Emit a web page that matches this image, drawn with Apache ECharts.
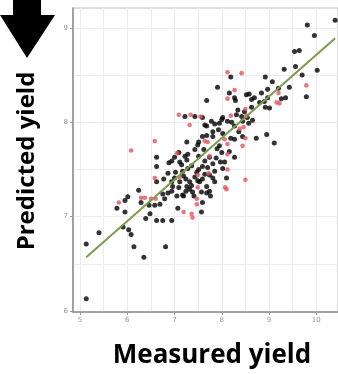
<!DOCTYPE html>
<html>
<head>
<meta charset="utf-8">
<script src="https://cdn.jsdelivr.net/npm/echarts@6/dist/echarts.min.js"></script>
<style>
  html, body { margin: 0; padding: 0; background: #fff; }
  #chart { width: 338px; height: 374px; }
</style>
</head>
<body>
<div id="chart"></div>
<script>
// tick labels
var xTicks = [5, 6, 7, 8, 9, 10]
var yTicks = [6, 7, 8, 9]
// grid lines (major + minor)
var xGrid = [5, 5.5, 6, 6.5, 7, 7.5, 8, 8.5, 9, 9.5, 10]
var yGrid = [6, 6.5, 7, 7.5, 8, 8.5, 9]

// black points: measured / predicted
var blackX = [9.81, 10.40, 9.96, 9.54, 9.64, 9.32, 9.56, 10.02, 9.70, 8.92, 9.07, 9.43, 9.20, 7.91, 8.19, 8.97, 8.84, 8.69, 8.97, 9.35,
  9.26, 9.79, 8.16, 8.27, 8.29, 8.52, 8.63, 7.68, 8.80, 8.90, 8.92, 9.01, 8.63, 8.48, 8.31, 8.42, 8.54, 8.65, 8.02, 8.00,
  7.78, 7.68, 7.22, 7.43, 7.59, 8.12, 7.95, 7.85, 7.64, 7.93, 8.02, 7.81, 8.27, 8.44, 7.68, 7.59, 7.81, 7.51, 7.26, 8.19,
  8.27, 8.44, 8.73, 8.95, 9.11, 7.95, 7.49, 7.43, 7.09, 7.28, 7.26, 7.00, 6.94, 6.88, 6.62, 6.62, 7.11, 7.22, 7.51, 7.64,
  7.74, 8.00, 8.16, 8.27, 7.97, 8.06, 7.81, 7.70, 7.59, 8.02, 7.28, 7.85, 7.51, 7.47, 7.19, 7.17, 7.24, 7.32, 7.43, 7.49,
  7.64, 7.74, 7.81, 7.59, 7.53, 6.62, 6.77, 7.00, 6.94, 6.96, 7.09, 7.26, 7.36, 7.11, 7.85, 8.10, 7.68, 7.74, 7.57, 7.38,
  7.32, 6.94, 6.86, 7.05, 7.19, 7.24, 7.41, 6.75, 6.24, 6.01, 5.95, 5.78, 5.95, 6.46, 6.58, 6.69, 6.79, 6.29, 7.59, 7.76,
  7.07, 7.57, 6.39, 6.48, 6.62, 6.75, 6.94, 5.13, 5.40, 5.91, 6.03, 6.08, 6.14, 6.35, 6.81, 5.13, 7.68, 7.17, 8.21, 8.57,
  7.36, 7.90, 8.36, 7.02, 6.86, 7.62, 8.34, 7.15, 7.88, 8.58]
var blackY = [9.03, 9.08, 8.92, 8.75, 8.76, 8.56, 8.59, 8.55, 8.50, 8.48, 8.43, 8.37, 8.36, 8.37, 8.48, 8.35, 8.31, 8.26, 8.26, 8.26,
  8.25, 8.27, 8.31, 8.26, 8.23, 8.29, 8.24, 8.23, 8.21, 8.22, 8.16, 8.15, 8.16, 8.11, 8.08, 8.06, 8.05, 8.02, 8.05, 8.03,
  8.01, 7.96, 8.06, 8.06, 8.05, 8.01, 7.99, 7.98, 7.97, 7.92, 7.88, 7.90, 7.96, 8.01, 7.86, 7.85, 7.85, 7.79, 7.79, 7.83,
  7.82, 7.85, 7.83, 7.87, 7.78, 7.75, 7.76, 7.71, 7.68, 7.66, 7.60, 7.63, 7.59, 7.57, 7.63, 7.53, 7.58, 7.64, 7.64, 7.59,
  7.63, 7.68, 7.69, 7.63, 7.58, 7.58, 7.56, 7.52, 7.53, 7.51, 7.51, 7.48, 7.50, 7.47, 7.43, 7.48, 7.40, 7.37, 7.42, 7.38,
  7.45, 7.44, 7.41, 7.40, 7.37, 7.37, 7.40, 7.41, 7.37, 7.32, 7.31, 7.32, 7.33, 7.37, 7.37, 7.41, 7.32, 7.27, 7.26, 7.26,
  7.29, 7.27, 7.25, 7.22, 7.22, 7.27, 7.22, 7.24, 7.28, 7.21, 7.17, 7.09, 7.05, 7.12, 7.12, 7.13, 7.19, 7.15, 7.15, 7.22,
  7.09, 7.05, 6.98, 7.03, 6.96, 6.96, 6.96, 6.71, 6.83, 6.89, 6.86, 6.81, 6.68, 6.57, 6.68, 6.13, 7.25, 7.23, 8.00, 7.99,
  7.54, 7.72, 7.90, 7.47, 7.46, 7.71, 8.13, 7.55, 7.62, 8.30]

// red points
var redX = [8.12, 8.42, 8.27, 8.12, 9.79, 9.20, 9.16, 9.22, 8.50, 7.09, 7.34, 7.55, 7.32, 8.19, 8.52, 8.46, 8.38, 6.58, 6.08, 7.64,
  7.70, 8.06, 8.50, 8.44, 8.12, 7.05, 7.74, 8.12, 8.12, 7.49, 7.11, 6.58, 8.07, 8.50, 7.49, 7.72, 5.82, 6.29, 6.37, 6.50,
  6.60, 7.47, 7.47, 7.19, 7.36, 7.38, 8.10]
var redY = [8.53, 8.52, 8.34, 8.25, 8.39, 8.31, 8.21, 8.20, 8.14, 8.08, 8.08, 8.06, 7.97, 8.07, 8.07, 7.95, 7.93, 7.80, 7.70, 7.80,
  7.79, 7.82, 7.83, 7.75, 7.77, 7.67, 7.64, 7.66, 7.50, 7.44, 7.42, 7.41, 7.31, 7.39, 7.31, 7.46, 7.15, 7.20, 7.20, 7.19,
  7.19, 7.19, 7.13, 7.05, 7.03, 6.99, 7.29]

// fitted line ends
var fitX = [5.13, 10.40]
var fitY = [6.57, 8.89]

function pairs(xs, ys) {
  return xs.map(function (x, i) { return [x, ys[i]] })
}

var chart = echarts.init(document.getElementById('chart'))

var labelStyle = { color: '#999', fontSize: 7, fontFamily: 'DejaVu Sans' }

var option = {
  animation: false,
  backgroundColor: '#fff',
  grid: {
    left: 73, top: 8, right: -1, bottom: 62,
    show: true, borderColor: '#bdbdbd', borderWidth: 1
  },
  xAxis: [{
    type: 'value', min: 4.85, max: 10.46,
    axisLine: { show: true, lineStyle: { color: '#8c8c8c', width: 1.5 } },
    axisTick: { show: false, customValues: xGrid },
    axisLabel: Object.assign({ customValues: xTicks, margin: 5 }, labelStyle),
    splitLine: { show: true, lineStyle: { color: '#ececec', width: 1 } }
  }, {
    // integer ticks only
    type: 'value', min: 4.85, max: 10.46, position: 'bottom',
    axisLine: { show: false },
    axisTick: { show: true, length: 3, customValues: xTicks, lineStyle: { color: '#999' } },
    axisLabel: { show: false },
    splitLine: { show: false }
  }],
  yAxis: [{
    type: 'value', min: 5.99, max: 9.21,
    axisLine: { show: true, lineStyle: { color: '#8c8c8c', width: 1.5 } },
    axisTick: { show: false, customValues: yGrid },
    axisLabel: Object.assign({ customValues: yTicks, margin: 5 }, labelStyle),
    splitLine: { show: true, lineStyle: { color: '#ececec', width: 1 } }
  }, {
    type: 'value', min: 5.99, max: 9.21, position: 'left',
    axisLine: { show: false },
    axisTick: { show: true, length: 3, customValues: yTicks, lineStyle: { color: '#999' } },
    axisLabel: { show: false },
    splitLine: { show: false }
  }],
  series: [{
    name: 'black',
    type: 'scatter',
    symbolSize: 5,
    itemStyle: { color: '#000' },
    data: pairs(blackX, blackY)
  }, {
    name: 'red',
    type: 'scatter',
    symbolSize: 4.6,
    itemStyle: { color: '#e4545e' },
    data: pairs(redX, redY)
  }, {
    name: 'fit',
    type: 'line',
    symbol: 'none',
    lineStyle: { color: '#7c9b4f', width: 2 },
    data: pairs(fitX, fitY),
    z: 5
  }],
  graphic: [{
    // down arrow in the corner
    type: 'polygon',
    shape: { points: [[13, 0], [41, 0], [41, 15], [55, 15], [27, 58], [0, 15], [13, 15]] },
    style: { fill: '#000' }
  }, {
    type: 'text',
    x: 212, y: 356,
    style: {
      text: 'Measured yield', fill: '#000',
      font: 'bold 26px "Open Sans"', align: 'center', verticalAlign: 'middle'
    }
  }, {
    type: 'text',
    x: 27, y: 161, rotation: Math.PI / 2,
    style: {
      text: 'Predicted yield', fill: '#000',
      font: 'bold 24px "Open Sans"', align: 'center', verticalAlign: 'middle'
    }
  }]
}

chart.setOption(option)
</script>
</body>
</html>
